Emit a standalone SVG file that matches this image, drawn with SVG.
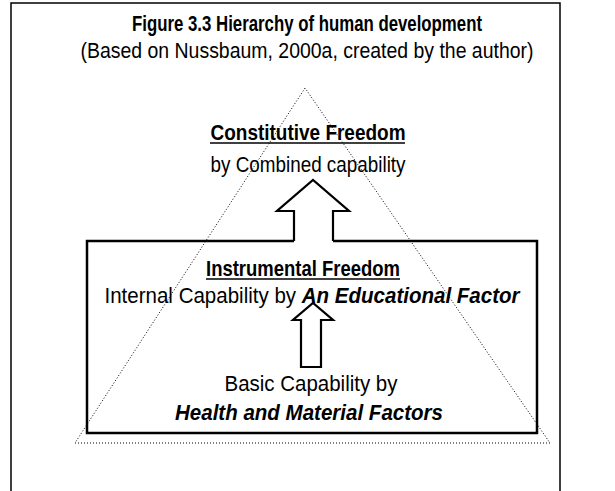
<svg xmlns="http://www.w3.org/2000/svg" width="615" height="491" viewBox="0 0 615 491">
<style>
text{font-family:"Liberation Sans Narrow","Liberation Sans",Arial,sans-serif;fill:#000;text-anchor:middle}
.t{font-size:22px;font-weight:bold}
.r{font-size:21.5px}
.b{font-size:21.5px;font-weight:bold}
.bi{font-weight:bold;font-style:italic}
.frame{fill:none;stroke:#000;stroke-width:1.5}
.box{fill:none;stroke:#000;stroke-width:2.5}
.arrow{fill:#fff;stroke:#000;stroke-width:2.2}
.tri{fill:none;stroke:#000;stroke-width:1;stroke-dasharray:1 2}
.ul{stroke:#000;stroke-width:1.3}
</style>
<g id="frame">
<path class="frame" d="M11,491 V3 H560 V491"/>
</g>
<g id="title">
<text class="t" x="307" y="31" textLength="350" lengthAdjust="spacingAndGlyphs">Figure 3.3 Hierarchy of human development</text>
<text class="r" x="307" y="58" textLength="453" lengthAdjust="spacingAndGlyphs">(Based on Nussbaum, 2000a, created by the author)</text>
</g>
<g id="constitutive">
<text class="b" x="308" y="140" textLength="195" lengthAdjust="spacingAndGlyphs">Constitutive Freedom</text>
<line class="ul" x1="210" y1="143" x2="405" y2="143"/>
<text class="r" x="308" y="172" textLength="195" lengthAdjust="spacingAndGlyphs">by Combined capability</text>
</g>
<g id="instrumental">
<path class="box" d="M294,241 H87 V433 H537 V241 H333"/>
<text class="b" x="303" y="276" textLength="194" lengthAdjust="spacingAndGlyphs">Instrumental Freedom</text>
<line class="ul" x1="206" y1="279" x2="400" y2="279"/>
<text class="r" x="312" y="303" textLength="415" lengthAdjust="spacingAndGlyphs">Internal Capability by <tspan class="bi">An Educational Factor</tspan></text>
</g>
<g id="basic">
<text class="r" x="311" y="391" textLength="173" lengthAdjust="spacingAndGlyphs">Basic Capability by</text>
<text class="r bi" x="309" y="420" textLength="268" lengthAdjust="spacingAndGlyphs">Health and Material Factors</text>
</g>
<g id="connectors">
<path class="arrow" d="M294,241 V211 H277 L313,180 L349,211 H333 V241"/>
<path class="arrow" d="M301,367 V320 H293 L313,303 L333,320 H321 V367 Z"/>
</g>
<g id="pyramid">
<path class="tri" d="M305,88 L75,443 H550 Z"/>
</g>
</svg>
